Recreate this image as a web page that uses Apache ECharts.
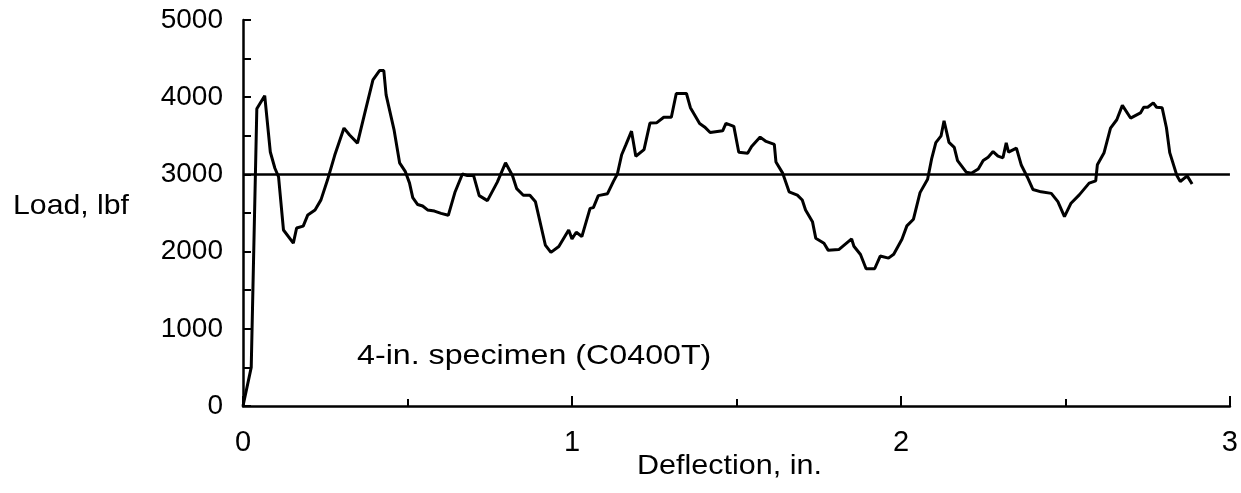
<!DOCTYPE html>
<html>
<head>
<meta charset="utf-8">
<title>Load vs deflection</title>
<script src="https://cdn.jsdelivr.net/npm/echarts@6/dist/echarts.min.js"></script>
<style>
  html, body { margin: 0; padding: 0; background: #fff; }
  #chart { width: 1241px; height: 493px; }
</style>
</head>
<body>
<div id="chart"></div>
<script>
// deflection (in.) and load (lbf)
const deflection = [
  0, 0.025, 0.042, 0.066, 0.083, 0.097, 0.108, 0.123, 0.153, 0.163,
  0.183, 0.197, 0.219, 0.237, 0.257, 0.279, 0.307, 0.324, 0.348, 0.370,
  0.395, 0.415, 0.428, 0.435, 0.459, 0.476, 0.493, 0.506, 0.516, 0.531,
  0.546, 0.561, 0.582, 0.602, 0.624, 0.644, 0.667, 0.682, 0.701, 0.718,
  0.743, 0.773, 0.798, 0.819, 0.832, 0.852, 0.872, 0.889, 0.919, 0.936,
  0.960, 0.990, 1.000, 1.013, 1.030, 1.055, 1.065, 1.080, 1.108, 1.126,
  1.138, 1.151, 1.164, 1.181, 1.194, 1.219, 1.237, 1.257, 1.279, 1.302,
  1.317, 1.348, 1.360, 1.388, 1.403, 1.420, 1.458, 1.468, 1.492, 1.507,
  1.534, 1.546, 1.572, 1.590, 1.615, 1.620, 1.640, 1.660, 1.685, 1.700,
  1.710, 1.731, 1.741, 1.766, 1.779, 1.811, 1.850, 1.857, 1.877, 1.894,
  1.920, 1.937, 1.962, 1.978, 2.003, 2.018, 2.038, 2.058, 2.081, 2.093,
  2.106, 2.122, 2.131, 2.146, 2.162, 2.172, 2.199, 2.214, 2.235, 2.250,
  2.265, 2.280, 2.295, 2.310, 2.320, 2.327, 2.351, 2.366, 2.384, 2.401,
  2.426, 2.457, 2.477, 2.497, 2.517, 2.542, 2.572, 2.592, 2.597, 2.617,
  2.637, 2.656, 2.673, 2.698, 2.728, 2.738, 2.750, 2.767, 2.777, 2.794,
  2.807, 2.817, 2.839, 2.849, 2.870, 2.885
];
const load = [
  0, 500, 3850, 4020, 3290, 3080, 2970, 2280, 2110, 2305,
  2330, 2475, 2540, 2670, 2930, 3250, 3600, 3510, 3405, 3790,
  4225, 4345, 4345, 4030, 3580, 3150, 3040, 2890, 2700, 2610,
  2590, 2540, 2525, 2495, 2470, 2765, 3005, 2985, 2985, 2725,
  2660, 2900, 3150, 2985, 2815, 2730, 2730, 2645, 2085, 1990,
  2065, 2280, 2165, 2250, 2195, 2560, 2570, 2725, 2750, 2910,
  3005, 3255, 3385, 3560, 3235, 3320, 3665, 3668, 3740, 3740,
  4048, 4048, 3864, 3660, 3615, 3542, 3565, 3660, 3622, 3287,
  3275, 3361, 3483, 3427, 3389, 3161, 3020, 2774, 2732, 2668,
  2540, 2388, 2174, 2109, 2016, 2026, 2164, 2070, 1962, 1777,
  1778, 1942, 1915, 1965, 2160, 2333, 2420, 2764, 2937, 3197,
  3412, 3500, 3695, 3414, 3350, 3178, 3027, 3014, 3071, 3179,
  3223, 3296, 3236, 3215, 3409, 3288, 3341, 3118, 2967, 2805,
  2774, 2754, 2647, 2453, 2627, 2735, 2887, 2917, 3124, 3276,
  3600, 3708, 3894, 3730, 3796, 3869, 3870, 3926, 3870, 3862,
  3605, 3282, 2981, 2908, 2981, 2875
];
// average load reference line
const avgX = [0, 3];
const avgLoad = [3000, 3000];

const xTicks = { min: 0, max: 3, step: 1 };
const yTicks = { min: 0, max: 5000, step: 1000 };

const fontFamily = '"Liberation Sans", Arial, Helvetica, sans-serif';

let chart = echarts.init(document.getElementById('chart'));

const option = {
  animation: false,
  backgroundColor: '#fff',
  grid: { left: 243, right: 7, top: 20, bottom: 87 },
  xAxis: {
    type: 'value',
    min: xTicks.min,
    max: xTicks.max,
    interval: xTicks.step,
    axisLine: { show: true, lineStyle: { color: '#000', width: 2.5 } },
    axisTick: { show: true, inside: true, length: 10, lineStyle: { color: '#000', width: 2 } },
    minorTick: { show: true, splitNumber: 2, length: 7, lineStyle: { color: '#000', width: 2 } },
    splitLine: { show: false },
    axisLabel: { color: '#000', fontSize: 29, fontFamily: fontFamily, margin: 22 }
  },
  yAxis: {
    type: 'value',
    min: yTicks.min,
    max: yTicks.max,
    interval: yTicks.step,
    axisLine: { show: true, lineStyle: { color: '#000', width: 2.5 } },
    axisTick: { show: true, inside: true, length: 8, lineStyle: { color: '#000', width: 2 } },
    minorTick: { show: true, splitNumber: 2, length: 8, lineStyle: { color: '#000', width: 2 } },
    splitLine: { show: false },
    axisLabel: {
      color: '#000', fontSize: 28, fontFamily: fontFamily, margin: 20,
      formatter: v => String(v)
    }
  },
  series: [
    {
      type: 'line',
      data: deflection.map((d, i) => [d, load[i]]),
      showSymbol: false,
      lineStyle: { color: '#000', width: 3 },
      z: 3
    },
    {
      type: 'line',
      data: avgX.map((d, i) => [d, avgLoad[i]]),
      showSymbol: false,
      lineStyle: { color: '#000', width: 2.5 },
      z: 2
    }
  ],
  graphic: [
    {
      type: 'text', left: 13, top: 192, scaleX: 1.08,
      style: { text: 'Load, lbf', fill: '#000', fontSize: 28, fontFamily: fontFamily }
    },
    {
      type: 'text', left: 637, top: 452, scaleX: 1.09,
      style: { text: 'Deflection, in.', fill: '#000', fontSize: 28, fontFamily: fontFamily }
    },
    {
      type: 'text', left: 357, top: 342, scaleX: 1.15,
      style: { text: '4-in. specimen (C0400T)', fill: '#000', fontSize: 28, fontFamily: fontFamily }
    }
  ]
};

chart.setOption(option);
</script>
</body>
</html>
